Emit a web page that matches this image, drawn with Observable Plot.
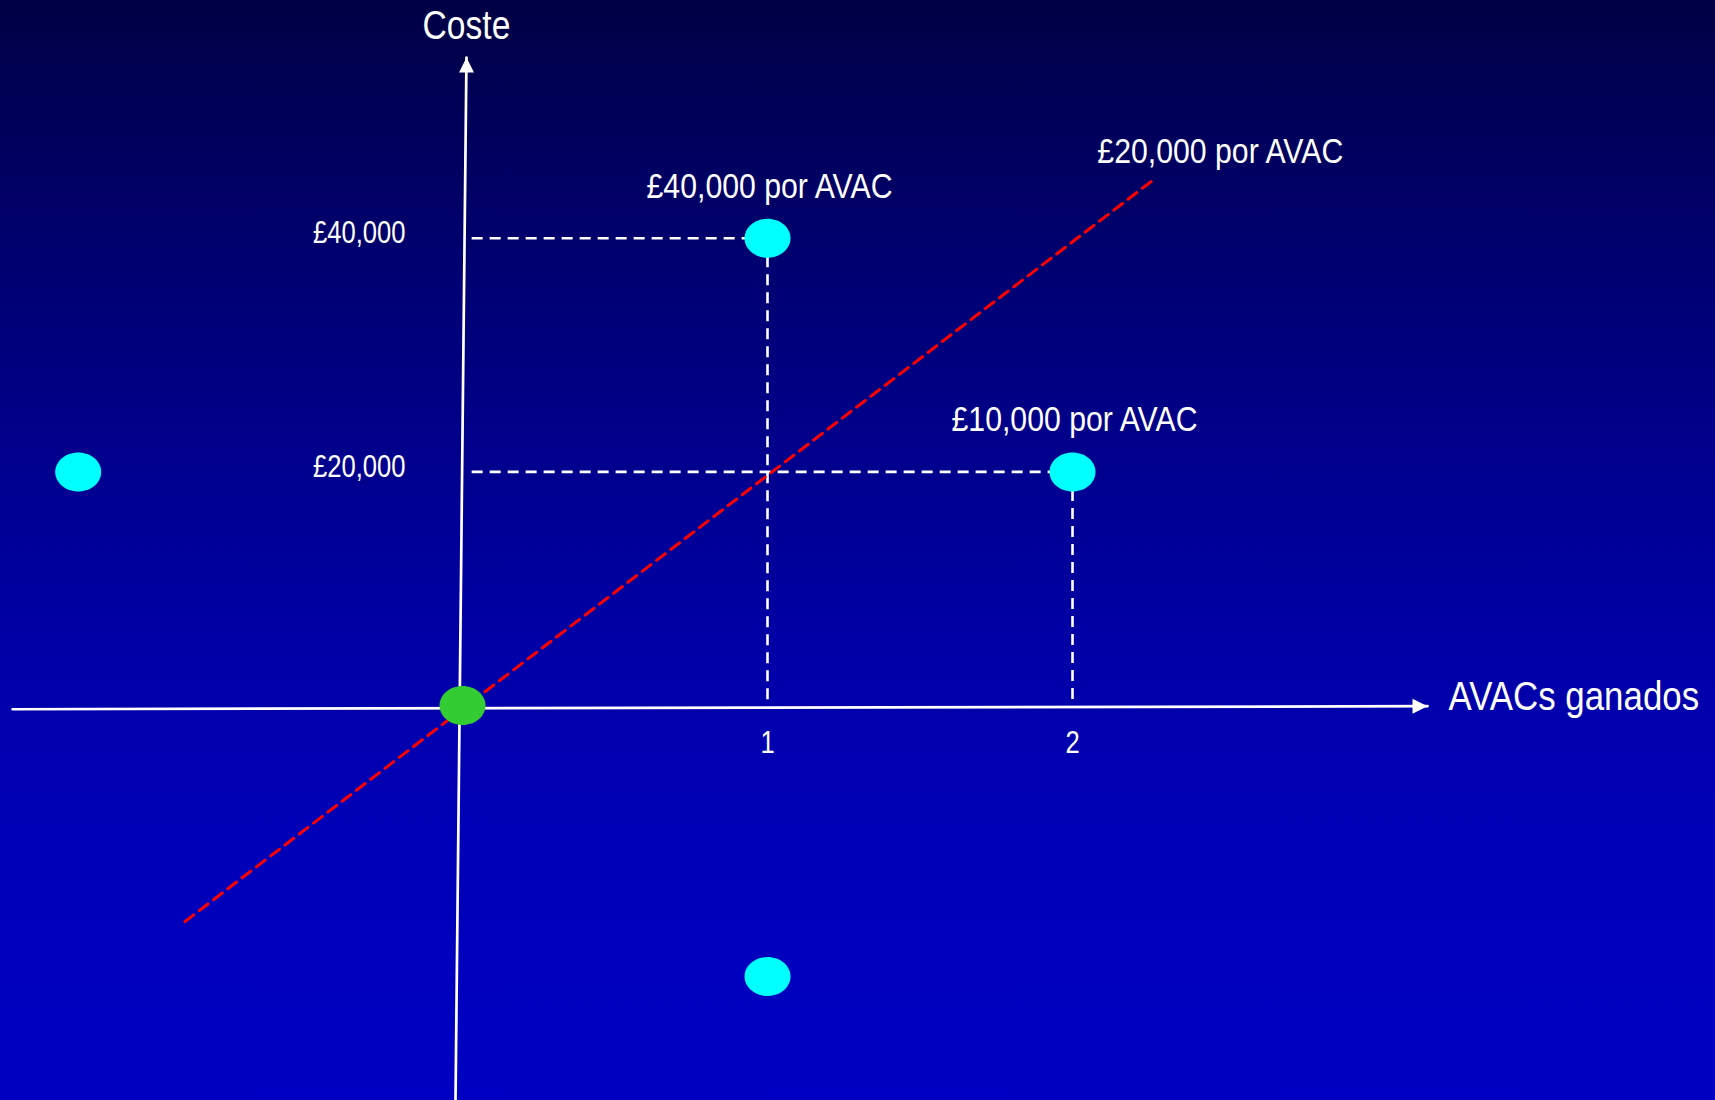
<!DOCTYPE html>
<html>
<head>
<meta charset="utf-8">
<script src="https://cdn.jsdelivr.net/npm/d3@7"></script>
<script src="https://cdn.jsdelivr.net/npm/@observablehq/plot@0.6"></script>
<style>
  html, body { margin: 0; padding: 0; background: #0000c0; overflow: hidden; }
  #chart svg { display: block; }
  #chart svg text { font-family: "Liberation Sans", Arial, sans-serif; }
</style>
</head>
<body>
<div id="chart"></div>
<script>
const NARROW = 0.84; // horizontal squeeze giving an Arial-Narrow-like face

// Options: QALYs gained (x) and cost (y)
const optionX = [0, 1, 2, -1.26, 1];
const optionY = [0, 40000, 20000, 20000, -23200];
const optionKind = ["origin", "option", "option", "option", "option"];

// Tick labels
const xTicks = [1, 2];
const yTicks = [20000, 40000];

// Annotated options
const labelText = ["£40,000 por AVAC", "£10,000 por AVAC"];
const labelX = [1, 2];
const labelY = [40000, 20000];

// £20,000 per QALY threshold line
const thresholdX = [-0.91, 2.265];
const thresholdY = [-18500, 45000];
const thresholdLabel = ["£20,000 por AVAC"];

// Axis lines (drawn through the origin, ending in arrows)
const xAxisX = [-1.475, 3.164];
const xAxisY = [-320, -60];
const yAxisX = [-0.023, 0.013];
const yAxisY = [-33900, 55480];
const axisTitles = ["AVACs ganados", "Coste"];

// Dashed guides from the axes to the options
const guideX1 = [0.03, 1, 0.03, 2];
const guideY1 = [40000, 40000, 20000, 20000];
const guideX2 = [1, 1, 2, 2];
const guideY2 = [40000, 0, 20000, 0];

// custom symbols
const ellipse = (rx, ry) => ({
  draw(ctx) {
    const k = 0.5523;
    ctx.moveTo(rx, 0);
    ctx.bezierCurveTo(rx, k * ry, k * rx, ry, 0, ry);
    ctx.bezierCurveTo(-k * rx, ry, -rx, k * ry, -rx, 0);
    ctx.bezierCurveTo(-rx, -k * ry, -k * rx, -ry, 0, -ry);
    ctx.bezierCurveTo(k * rx, -ry, rx, -k * ry, rx, 0);
    ctx.closePath();
  }
});
const arrowHead = {
  draw(ctx) {
    ctx.moveTo(0, 0);
    ctx.lineTo(-7.5, 15);
    ctx.lineTo(7.5, 15);
    ctx.closePath();
  }
};

const idx = optionX.map((_, i) => i);
const xEnd = xAxisX.length - 1;
const yEnd = yAxisY.length - 1;

const chart = Plot.plot({
  width: 1715,
  height: 1100,
  margin: 0,
  x: { domain: [-1.5148, 4.1082], axis: null },
  y: { domain: [-33818, 60360], axis: null },
  style: {
    background: "linear-gradient(to bottom, #000044 0%, #000058 10%, #000072 25%, #00008f 43%, #0000a8 60%, #0000b6 75%, #0000be 87%, #0000c2 100%)",
    color: "white"
  },
  marks: [
    // dashed guides
    Plot.link(guideX1, {
      x1: guideX1, y1: guideY1, x2: guideX2, y2: guideY2,
      stroke: "white", strokeWidth: 2.6, strokeDasharray: "11,7"
    }),
    // threshold line
    Plot.line(thresholdX, {
      x: thresholdX, y: thresholdY,
      stroke: "#ff0000", strokeWidth: 3, strokeDasharray: "11,7"
    }),
    // axes
    Plot.line(xAxisX, { x: xAxisX, y: xAxisY, stroke: "white", strokeWidth: 2.7 }),
    Plot.line(yAxisX, { x: yAxisX, y: yAxisY, stroke: "white", strokeWidth: 2.7 }),
    Plot.dot([0], { x: [xAxisX[xEnd]], y: [xAxisY[xEnd]], symbol: arrowHead, rotate: 90, fill: "white", stroke: "none" }),
    Plot.dot([0], { x: [yAxisX[yEnd]], y: [yAxisY[yEnd]], symbol: arrowHead, fill: "white", stroke: "none" }),
    // options
    Plot.dot(idx, {
      x: i => optionX[i], y: i => optionY[i],
      symbol: ellipse(23, 19.5),
      fill: i => optionKind[i] === "origin" ? "#33cc33" : "#00ffff",
      stroke: "none"
    }),
    // tick labels
    Plot.text(yTicks, {
      x: 0, y: d => d, text: d => "£" + d3.format(",")(d),
      textAnchor: "end", dx: -57, dy: -5, fontSize: 30.5, fill: "white"
    }),
    Plot.text(xTicks, {
      x: d => d, y: 0, text: d => String(d),
      dy: 38, fontSize: 30.5, fill: "white"
    }),
    // option annotations
    Plot.text(labelText, {
      x: labelX, y: labelY, text: labelText,
      dx: 2, dy: -52, fontSize: 36, fill: "white"
    }),
    Plot.text(thresholdLabel, {
      x: [thresholdX[1]], y: [thresholdY[1]], text: thresholdLabel,
      textAnchor: "start", dx: -56, dy: -28, fontSize: 36, fill: "white"
    }),
    // axis titles
    Plot.text([axisTitles[0]], {
      x: [xAxisX[xEnd]], y: [xAxisY[xEnd]], text: [axisTitles[0]],
      textAnchor: "start", dx: 21, dy: -9, fontSize: 41.5, fill: "white"
    }),
    Plot.text([axisTitles[1]], {
      x: [yAxisX[yEnd]], y: [yAxisY[yEnd]], text: [axisTitles[1]],
      dy: -31, fontSize: 40, fill: "white"
    })
  ]
});

// squeeze glyphs horizontally around each text's own anchor point
d3.select(chart).selectAll("text").each(function () {
  const t = this.getAttribute("transform");
  if (t) this.setAttribute("transform", `${t} scale(${NARROW},1)`);
});

document.getElementById("chart").appendChild(chart);
</script>
</body>
</html>
